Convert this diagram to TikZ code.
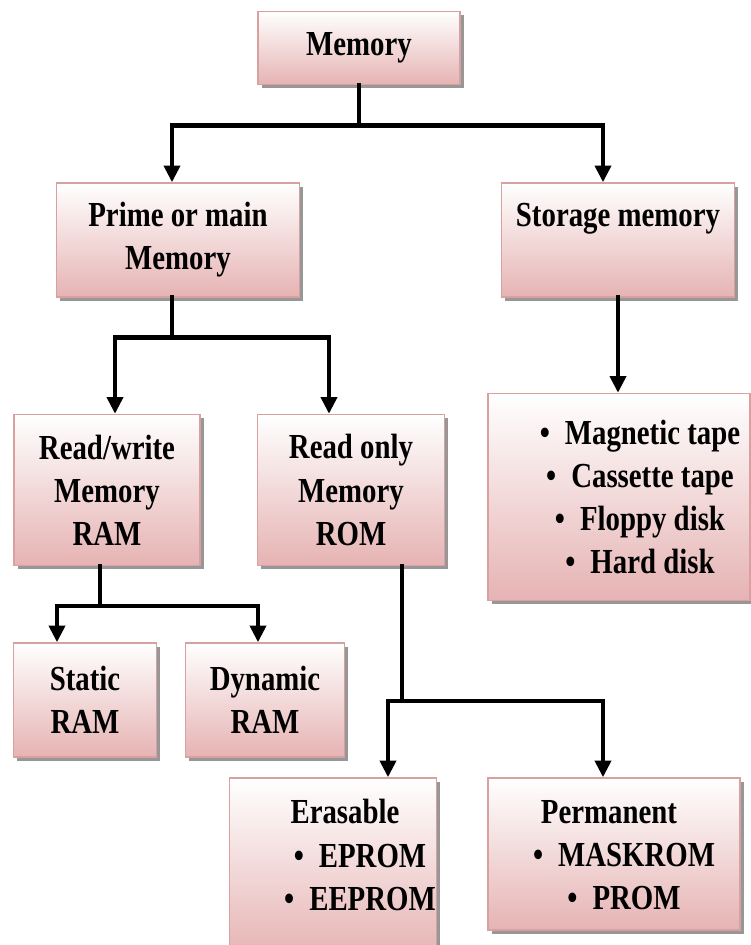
\documentclass[tikz,border=0pt]{standalone}
\usepackage{fontspec}
\setmainfont{Liberation Serif}[FakeStretch=0.82]
\usetikzlibrary{arrows.meta, positioning, calc, shadows}
\definecolor{boxLine}{HTML}{d9a0a0}
\definecolor{boxTop}{HTML}{ffffff}
\definecolor{boxBottom}{HTML}{e6b3b3}
\definecolor{shade}{HTML}{8c8c8c}
\definecolor{ink}{HTML}{000000}

\begin{document}
\begin{tikzpicture}[
    font=\bfseries\fontsize{20}{24.5}\selectfont,
    every node/.style={align=center, text=ink},
    membox/.style={draw=boxLine, line width=0.8pt, top color=boxTop,
                   bottom color=boxBottom, inner sep=2pt,
                   drop shadow={shadow xshift=2.2pt, shadow yshift=-2.2pt,
                                fill=shade, opacity=0.9}},
    link/.style={draw=ink, line width=2.6pt, line cap=rect},
    linkarrow/.style={link, -{Triangle[length=9.5pt,width=9pt]}},
    ]

\useasboundingbox (0,0) rectangle (15,-18.9);

% ====================================================================
% Boxes
% ====================================================================
\node[membox, minimum width=4.04cm, minimum height=1.46cm]
  (mem) at (7.18,-0.96) {Memory};

\node[membox, minimum width=4.86cm, minimum height=2.28cm]
  (prime) at (3.56,-4.80) {Prime or main\\Memory};
\node[membox, minimum width=4.66cm, minimum height=2.28cm]
  (store) at (12.36,-4.80) {Storage memory\\[0.15cm]};

\node[membox, minimum width=3.72cm, minimum height=3.02cm]
  (ram) at (2.14,-9.80) {Read/write\\Memory\\RAM};
\node[membox, minimum width=3.74cm, minimum height=3.02cm]
  (rom) at (7.02,-9.80) {Read only\\Memory\\ROM};
\node[membox, minimum width=5.24cm, minimum height=4.14cm]
  (media) at (12.38,-9.94) {};
\node (mediaText) at (12.80,-9.94)
  {\textbullet\hspace{0.3cm}Magnetic tape\\ \textbullet\hspace{0.3cm}Cassette tape\\
   \textbullet\hspace{0.3cm}Floppy disk\\ \textbullet\hspace{0.3cm}Hard disk};

\node[membox, minimum width=2.86cm, minimum height=2.28cm]
  (sram) at (1.70,-14.00) {Static\\RAM};
\node[membox, minimum width=3.18cm, minimum height=2.28cm]
  (dram) at (5.30,-14.00) {Dynamic\\RAM};

% erasable box runs off the bottom edge
\node[membox, minimum width=4.14cm, minimum height=3.60cm]
  (erase) at (6.66,-17.36) {};
\node (eraseText) at (7.20,-17.10)
  {\hspace{-0.6cm}Erasable\\ \textbullet\hspace{0.3cm}EPROM\\ \textbullet\hspace{0.3cm}EEPROM};
\node[membox, minimum width=5.04cm, minimum height=3.04cm]
  (perm) at (12.28,-17.08) {};
\node (permText) at (12.48,-17.10)
  {\hspace{-0.6cm}Permanent\\ \textbullet\hspace{0.3cm}MASKROM\\ \textbullet\hspace{0.3cm}PROM};

% ====================================================================
% Connectors
% ====================================================================
% Memory -> prime / storage
\coordinate (j1) at ($(mem.south)+(0,-0.81)$);
\draw[link] (mem.south) -- (j1);
\draw[linkarrow] (j1) -| ([xshift=-0.12cm]prime.north);
\draw[linkarrow] (j1) -| ([xshift=-0.30cm]store.north);

% Prime -> RAM / ROM
\coordinate (j2) at ($([xshift=-0.12cm]prime.south)+(0,-0.80)$);
\draw[link] ([xshift=-0.12cm]prime.south) -- (j2);
\draw[linkarrow] (j2) -| ([xshift=0.16cm]ram.north);
\draw[linkarrow] (j2) -| ([xshift=-0.44cm]rom.north);

% Storage -> media list
\draw[linkarrow] (store.south) -- (store.south |- media.north);

% RAM -> static / dynamic
\coordinate (j3) at ($([xshift=-0.14cm]ram.south)+(0,-0.80)$);
\draw[link] ([xshift=-0.14cm]ram.south) -- (j3);
\draw[linkarrow] (j3) -| ([xshift=-0.56cm]sram.north);
\draw[linkarrow] (j3) -| ([xshift=-0.14cm]dram.north);

% ROM -> erasable / permanent
\coordinate (j4) at ($([xshift=1.02cm]rom.south)+(0,-2.70)$);
\draw[link] ([xshift=1.02cm]rom.south) -- (j4);
\draw[linkarrow] (j4) -| ([xshift=1.10cm]erase.north);
\draw[linkarrow] (j4) -| ([xshift=-0.22cm]perm.north);

\end{tikzpicture}
\end{document}
